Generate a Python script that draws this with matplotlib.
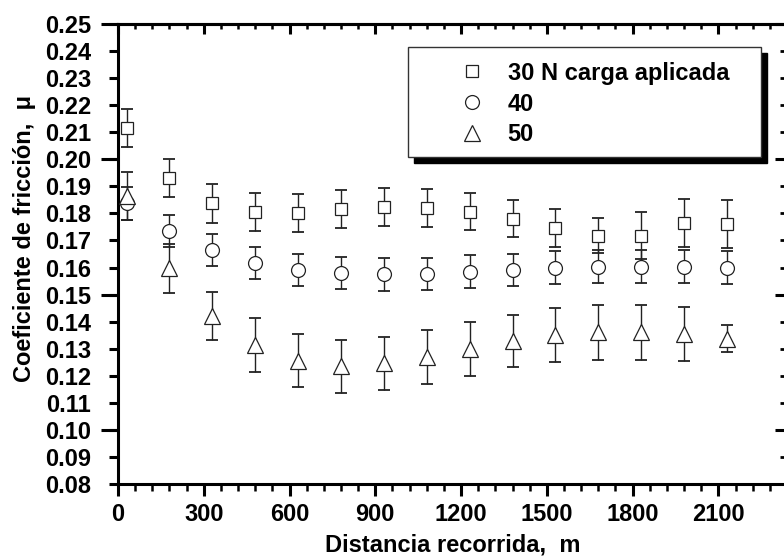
import matplotlib
matplotlib.use("Agg")
import matplotlib.pyplot as plt
from matplotlib.ticker import MultipleLocator, FormatStrFormatter
from matplotlib.patches import Rectangle
from matplotlib.transforms import ScaledTranslation

plt.rcParams['font.family'] = ['Liberation Sans', 'DejaVu Sans']
plt.rcParams['font.weight'] = 'bold'

# distancia recorrida (m)
distancia = [30, 180, 330, 480, 630, 780, 930, 1080, 1230, 1380, 1530, 1680, 1830, 1980, 2130]

# 30 N
mu_30 = [0.2115, 0.1930, 0.1837, 0.1804, 0.1800, 0.1815, 0.1824, 0.1821, 0.1806, 0.1781,
         0.1745, 0.1718, 0.1717, 0.1765, 0.1761]
err_30 = [0.0070, 0.0070, 0.0072, 0.0070, 0.0070, 0.0070, 0.0070, 0.0070, 0.0069, 0.0070,
          0.0070, 0.0065, 0.0087, 0.0088, 0.0089]
# 40 N
mu_40 = [0.1837, 0.1735, 0.1665, 0.1618, 0.1591, 0.1579, 0.1575, 0.1576, 0.1585, 0.1591,
         0.1600, 0.1603, 0.1603, 0.1603, 0.1600]
err_40 = [0.0060, 0.0060, 0.0060, 0.0059, 0.0059, 0.0060, 0.0060, 0.0060, 0.0060, 0.0059,
          0.0060, 0.0060, 0.0060, 0.0062, 0.0060]
# 50 N
mu_50 = [0.1865, 0.1597, 0.1421, 0.1314, 0.1256, 0.1236, 0.1246, 0.1268, 0.1299, 0.1329,
         0.1351, 0.1360, 0.1360, 0.1353, 0.1336]
err_50 = [0.0089, 0.0090, 0.0090, 0.0100, 0.0098, 0.0098, 0.0099, 0.0100, 0.0100, 0.0097,
          0.0099, 0.0100, 0.0101, 0.0100, 0.0050]

etiquetas = ['30 N carga aplicada', '40', '50']
marcadores = ['s', 'o', '^']
tamanos = [8.6, 10, 12]

fig = plt.figure(figsize=(7.84, 5.56), dpi=100)
ax = fig.add_axes([118/784, 72/556, 669/784, 460/556])

color = '#222222'
for y, e, m, ms, lab in zip([mu_30, mu_40, mu_50], [err_30, err_40, err_50],
                            marcadores, tamanos, etiquetas):
    ax.errorbar(distancia, y, yerr=e, fmt='none', ecolor=color, elinewidth=1.0,
                capsize=4, capthick=1.3, zorder=3)
    ax.plot(distancia, y, linestyle='none', marker=m, markersize=ms, mfc='white',
            mec=color, mew=0.9, label=lab, zorder=4)

ax.set_xlim(0, 2340)
ax.set_ylim(0.08, 0.25)

for s in ax.spines.values():
    s.set_linewidth(2.2)

ax.xaxis.set_major_locator(MultipleLocator(300))
ax.xaxis.set_minor_locator(MultipleLocator(60))
ax.yaxis.set_major_locator(MultipleLocator(0.01))
ax.yaxis.set_minor_locator(MultipleLocator(0.05))
ax.yaxis.remove_overlapping_locs = False
ax.yaxis.set_major_formatter(FormatStrFormatter('%.2f'))

ax.tick_params(axis='x', which='major', direction='out', length=8.6, width=2.2,
               labelsize=17, pad=5)
ax.tick_params(axis='x', which='minor', direction='out', length=4.7, width=1.8)
ax.tick_params(axis='y', which='major', direction='out', length=6.5, width=2.2,
               labelsize=17, pad=13)
ax.tick_params(axis='y', which='minor', direction='out', length=12.2, width=2.2)

top = ax.secondary_xaxis('top')
top.xaxis.set_major_locator(MultipleLocator(300))
top.xaxis.set_minor_locator(MultipleLocator(60))
top.tick_params(which='major', direction='in', length=7.2, width=2.2, labeltop=False)
top.tick_params(which='minor', direction='in', length=3.6, width=1.8)
top.spines['top'].set_linewidth(2.2)

right = ax.secondary_yaxis('right')
right.yaxis.set_major_locator(MultipleLocator(0.05))
right.yaxis.set_minor_locator(MultipleLocator(0.01))
right.tick_params(which='major', direction='in', length=8.6, width=2.2, labelright=False)
right.tick_params(which='minor', direction='in', length=5, width=2.0)

ax.set_xlabel('Distancia recorrida,  m', fontsize=17, fontweight='bold')
ax.set_ylabel('Coeficiente de fricción,  μ', fontsize=17, fontweight='bold')
ax.xaxis.set_label_coords(0.5, -0.108)
ax.yaxis.set_label_coords(-0.122, 0.533)

# caja de la leyenda con sombra
sombra = Rectangle((0.4335, 0.711), 0.5275, 0.239, transform=ax.transAxes +
                   ScaledTranslation(0.06, -0.06, fig.dpi_scale_trans),
                   facecolor='black', edgecolor='black', zorder=6, clip_on=False)
caja = Rectangle((0.4335, 0.711), 0.5275, 0.239, transform=ax.transAxes,
                 facecolor='white', edgecolor='#333333', linewidth=1.0, zorder=7,
                 clip_on=False)
ax.add_patch(sombra)
ax.add_patch(caja)

leg = ax.legend(loc='upper left', bbox_to_anchor=(0.503, 0.918), frameon=False,
                fontsize=17, borderpad=0, handlelength=1.5, handletextpad=0.75,
                labelspacing=0.33, borderaxespad=0)
leg.set_zorder(8)
for t in leg.get_texts():
    t.set_fontweight('bold')

fig.savefig('out.png', dpi=100)
